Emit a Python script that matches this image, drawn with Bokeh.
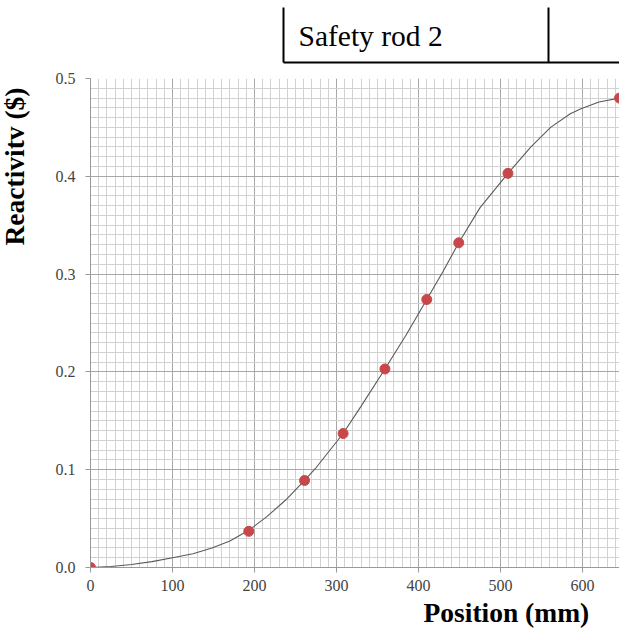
from bokeh.plotting import figure
from bokeh.models import Range1d, FixedTicker, PrintfTickFormatter, Title
from bokeh.layouts import column, row
from bokeh.embed import file_html
from bokeh.resources import INLINE
from bokeh.core.properties import value

title_text = "Safety rod 2"
x_title = "Position  (mm)"
y_title = "Reactivitv ($)"

x_ticks = [0, 100, 200, 300, 400, 500, 600]
y_ticks = [0.0, 0.1, 0.2, 0.3, 0.4, 0.5]

meas_pos = [0, 193, 261, 308, 359, 410, 449, 509, 645]
meas_rho = [0.0, 0.037, 0.089, 0.137, 0.203, 0.274, 0.332, 0.403, 0.480]

curve_pos = [0, 25, 50, 75, 100, 125, 148, 170, 193, 215, 238, 261, 274, 308,
             330, 359, 385, 410, 430, 449, 475, 509, 537, 561, 585, 598, 620, 645]
curve_rho = [0.0, 0.001, 0.003, 0.006, 0.010, 0.014, 0.020, 0.027, 0.038, 0.052,
             0.069, 0.089, 0.101, 0.137, 0.165, 0.203, 0.238, 0.274, 0.303, 0.332,
             0.368, 0.403, 0.430, 0.450, 0.464, 0.469, 0.476, 0.480]

SERIF = "Liberation Serif"


def bare(fig):
    fig.axis.visible = False
    fig.grid.visible = False
    fig.outline_line_color = None
    fig.background_fill_color = None
    fig.border_fill_color = None


# ---- header strip with the boxed caption (pixel-space ranges) ----
top = figure(width=619, height=70, x_range=Range1d(90, 619), y_range=Range1d(70, 0),
             output_backend="svg", toolbar_location=None,
             min_border_left=90, min_border_right=0, min_border_top=0, min_border_bottom=0)
bare(top)
top.segment(x0=[283, 283, 548], y0=[7, 62, 7], x1=[283, 619, 548], y1=[62, 62, 62],
            line_color="black", line_width=2)
top.text(x=[298], y=[35], text=[title_text], text_font=value(SERIF),
         text_font_size="29.5px", text_color="black", text_baseline="alphabetic",
         text_align="left")

# ---- strip for the vertical axis title (same vertical scale as the chart) ----
side = figure(width=40, height=564, x_range=Range1d(0, 40), y_range=Range1d(0, 0.5),
              output_backend="svg", toolbar_location=None,
              min_border_left=0, min_border_right=0, min_border_top=8, min_border_bottom=67)
bare(side)
side.text(x=[14], y=[0.41], text=[y_title], angle=1.5707963, text_font=value(SERIF),
          text_font_size="27.5px", text_font_style="bold", text_color="black",
          text_align="center", text_baseline="middle")

# ---- main chart ----
p = figure(width=579, height=564, x_range=Range1d(0, 645), y_range=Range1d(0, 0.5),
           output_backend="svg", toolbar_location=None,
           min_border_left=50, min_border_right=0, min_border_top=8, min_border_bottom=67)
p.outline_line_color = None

p.xaxis.ticker = FixedTicker(ticks=x_ticks, minor_ticks=list(range(0, 650, 10)))
p.yaxis.ticker = FixedTicker(ticks=y_ticks, minor_ticks=[i / 100 for i in range(0, 51)])
p.yaxis.formatter = PrintfTickFormatter(format="%.1f")

for ax in (p.xaxis, p.yaxis):
    ax.axis_line_color = "#999999"
    ax.major_tick_line_color = "#999999"
    ax.major_tick_out = 5
    ax.major_tick_in = 0
    ax.minor_tick_line_color = None
    ax.major_label_text_font = SERIF
    ax.major_label_text_font_size = "16px"
    ax.major_label_text_color = "#444444"
p.xaxis.major_label_standoff = 7
p.yaxis.major_label_standoff = 10

for g in (p.xgrid, p.ygrid):
    g.grid_line_color = "#a8a8a8"
    g.minor_grid_line_color = "#d2d2d2"
    g.grid_line_width = 1
    g.minor_grid_line_width = 1

p.line(curve_pos, curve_rho, line_color="#5a5a5a", line_width=1.1)
p.scatter(meas_pos, meas_rho, size=10, fill_color="#c8474a", line_color="#c8474a")

p.add_layout(Title(text=x_title, align="left", offset=333, standoff=2,
                   text_font=SERIF, text_font_size="27.5px", text_font_style="bold",
                   text_color="black"), "below")

layout = column(top, row(side, p, spacing=0), spacing=0)
open("out.html", "w").write(file_html(layout, INLINE))
